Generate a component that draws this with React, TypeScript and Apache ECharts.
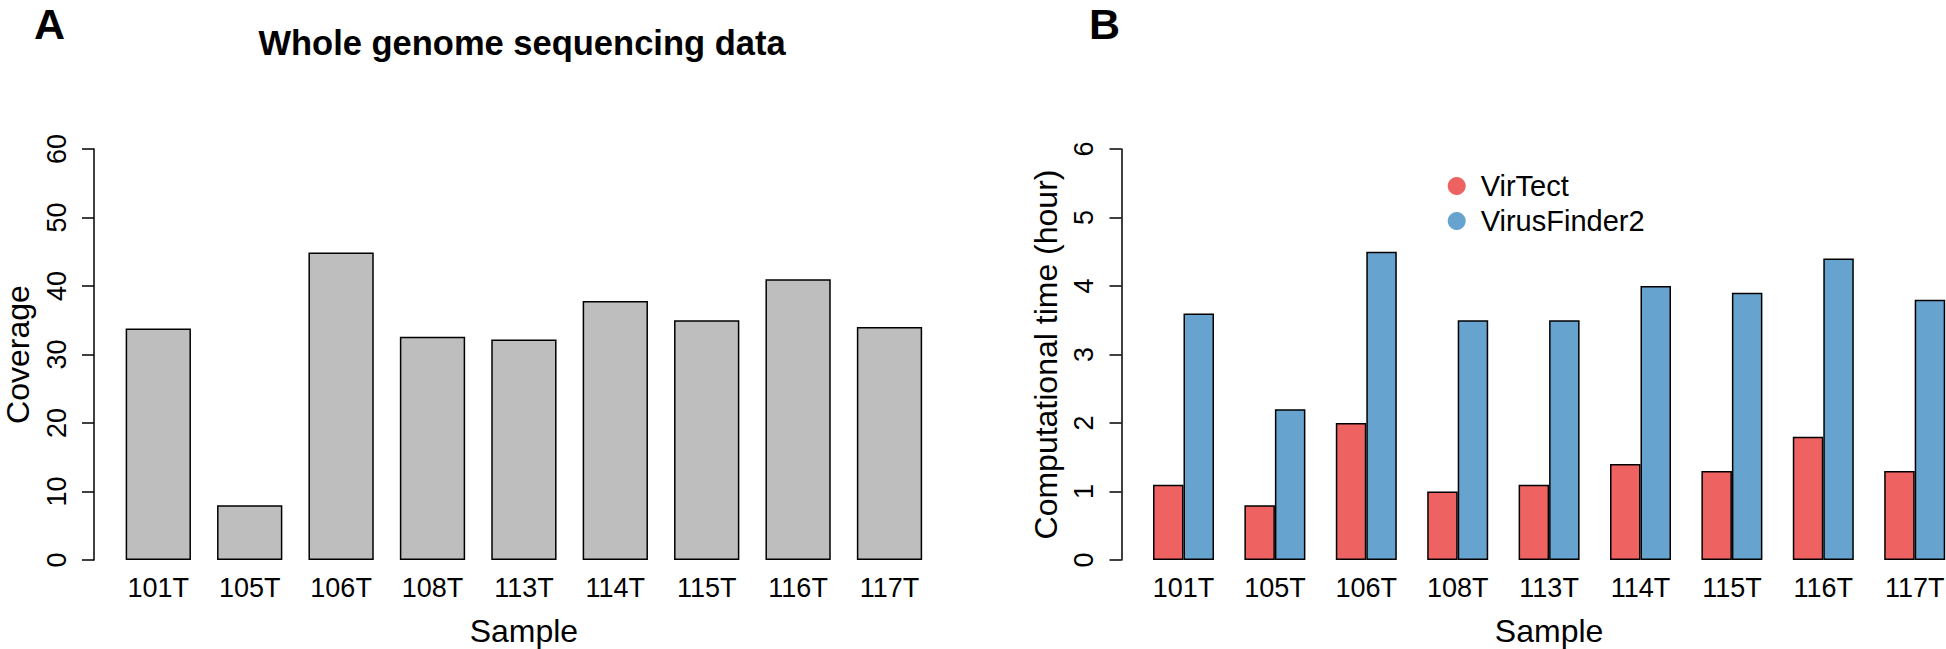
import React, { useEffect, useRef } from "react";
import * as echarts from "echarts";

const samples = ["101T", "105T", "106T", "108T", "113T", "114T", "115T", "116T", "117T"];
const coverage = [33.8, 8.0, 44.9, 32.6, 32.2, 37.8, 35.0, 41.0, 34.0];
const virTect = [1.1, 0.8, 2.0, 1.0, 1.1, 1.4, 1.3, 1.8, 1.3];
const virusFinder2 = [3.6, 2.2, 4.5, 3.5, 3.5, 4.0, 3.9, 4.4, 3.8];
const coverageRange = [0, 60, 10];
const timeRange = [0, 6, 1];

const FONT = "'Liberation Sans', Arial, Helvetica, sans-serif";

export default function App() {
  const ref = useRef<HTMLDivElement>(null);

  useEffect(() => {
    if (!ref.current) return;
    const chart = echarts.init(ref.current, null, { renderer: "svg" });

    const axisLine = { show: true, lineStyle: { color: "#000", width: 1.5 } };
    const axisTick = { show: true, length: 12, inside: false, lineStyle: { color: "#000", width: 1.5 } };
    const yLabel = { rotate: 90, fontSize: 27, color: "#000", margin: 24, fontFamily: FONT };
    const xLabel = { fontSize: 27, color: "#000", margin: 14, interval: 0, fontFamily: FONT };
    const nameStyle = { fontSize: 32, color: "#000", fontFamily: FONT };

    const option: any = {
      animation: false,
      backgroundColor: "#fff",
      grid: [
        { left: 112.6, top: 149, width: 822.6, height: 411, containLabel: false, outerBoundsMode: "none" },
        { left: 1137.8, top: 149, width: 822.6, height: 411, containLabel: false, outerBoundsMode: "none" },
      ],
      xAxis: [
        {
          gridIndex: 0, type: "category", data: samples,
          axisLine: { show: false }, axisTick: { show: false }, axisLabel: xLabel,
          name: "Sample", nameLocation: "middle", nameGap: 55, nameTextStyle: nameStyle,
        },
        {
          gridIndex: 1, type: "category", data: samples,
          axisLine: { show: false }, axisTick: { show: false }, axisLabel: xLabel,
          name: "Sample", nameLocation: "middle", nameGap: 55, nameTextStyle: nameStyle,
        },
      ],
      yAxis: [
        {
          gridIndex: 0, type: "value", min: coverageRange[0], max: coverageRange[1], interval: coverageRange[2],
          offset: 18.6, axisLine, axisTick, axisLabel: yLabel, splitLine: { show: false },
          name: "Coverage", nameLocation: "middle", nameRotate: 90, nameGap: 60, nameTextStyle: nameStyle,
        },
        {
          gridIndex: 1, type: "value", min: timeRange[0], max: timeRange[1], interval: timeRange[2],
          offset: 16.3, axisLine, axisTick, axisLabel: yLabel, splitLine: { show: false },
          name: "Computational time (hour)", nameLocation: "middle", nameRotate: 90, nameGap: 60, nameTextStyle: nameStyle,
        },
      ],
      legend: {
        data: ["VirTect", "VirusFinder2"],
        orient: "vertical",
        left: 1447.7,
        top: 168.5,
        padding: 0,
        itemGap: 0,
        icon: "circle",
        itemWidth: 18,
        itemHeight: 18,
        itemStyle: { borderWidth: 0 },
        textStyle: { fontSize: 29, color: "#000", lineHeight: 35, padding: [0, 0, 0, 10], fontFamily: FONT },
      },
      series: [
        {
          type: "bar", name: "Coverage", xAxisIndex: 0, yAxisIndex: 0, data: coverage, barWidth: 65.3,
          itemStyle: { color: "#BEBEBE", borderColor: "#000", borderWidth: 1.5 },
        },
        {
          type: "bar", name: "VirTect", xAxisIndex: 1, yAxisIndex: 1, data: virTect, barWidth: 30.5, barGap: "0%",
          itemStyle: { color: "#EE6262", borderColor: "#000", borderWidth: 1.5 },
        },
        {
          type: "bar", name: "VirusFinder2", xAxisIndex: 1, yAxisIndex: 1, data: virusFinder2, barWidth: 30.5, barGap: "0%",
          itemStyle: { color: "#66A3CE", borderColor: "#000", borderWidth: 1.5 },
        },
      ],
      graphic: [
        {
          type: "text", x: 34, y: 24,
          style: { text: "A", fontSize: 43, fontWeight: "bold", fontFamily: FONT, fill: "#000", align: "left", verticalAlign: "middle" },
        },
        {
          type: "text", x: 1089, y: 24,
          style: { text: "B", fontSize: 43, fontWeight: "bold", fontFamily: FONT, fill: "#000", align: "left", verticalAlign: "middle" },
        },
        {
          type: "text", x: 522, y: 43,
          style: { text: "Whole genome sequencing data", fontSize: 34.5, fontWeight: "bold", fontFamily: FONT, fill: "#000", align: "center", verticalAlign: "middle" },
        },
      ],
    };

    chart.setOption(option);
    return () => chart.dispose();
  }, []);

  return (
    <div
      ref={ref}
      style={{ position: "fixed", left: 0, top: 0, width: 1946, height: 649, background: "#fff" }}
    />
  );
}
